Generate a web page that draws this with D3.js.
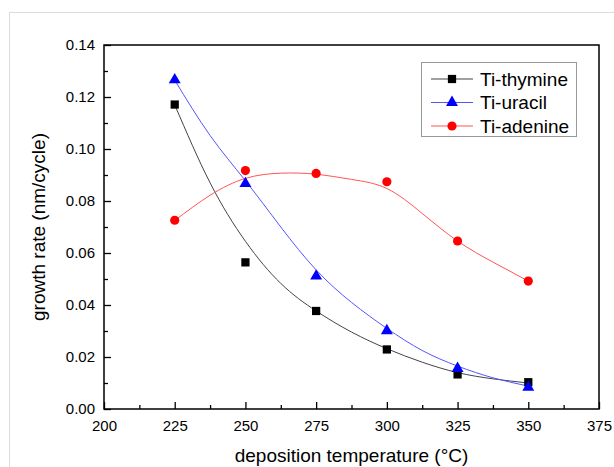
<!DOCTYPE html>
<html>
<head>
<meta charset="utf-8">
<script src="https://cdn.jsdelivr.net/npm/d3@7"></script>
<style>
  body { margin: 0; background: #fff; }
  svg text { font-family: Arial, "Liberation Sans", sans-serif; fill: #000; }
</style>
</head>
<body>
<svg id="chart" width="614" height="467"></svg>
<script>
// data
const temps   = [225, 250, 275, 300, 325, 350];
const thymine = [0.1171, 0.0564, 0.0377, 0.0229, 0.0133, 0.0103];
const uracil  = [0.1266, 0.0867, 0.0511, 0.0301, 0.0156, 0.0083];
const adenine = [0.0726, 0.0917, 0.0906, 0.0874, 0.0646, 0.0492];

// fitted curves
const fitTemps    = [225, 237.5, 250, 262.5, 275, 287.5, 300, 312.5, 325, 337.5, 350];
const thymineFit  = [0.117, 0.0870, 0.0645, 0.0483, 0.0377, 0.0296, 0.0232, 0.0180, 0.0140, 0.0116, 0.0100];
const uracilFit   = [0.1265, 0.1052, 0.0878, 0.0700, 0.0535, 0.041, 0.031, 0.0225, 0.0165, 0.0120, 0.0088];
const adenineFit  = [0.0725, 0.0822, 0.0887, 0.0907, 0.0903, 0.0883, 0.0848, 0.0752, 0.0646, 0.0565, 0.0492];

const xMajor = [200, 225, 250, 275, 300, 325, 350, 375];
const xMinor = [212.5, 237.5, 262.5, 287.5, 312.5, 337.5, 362.5];
const yMajor = [0, 0.02, 0.04, 0.06, 0.08, 0.10, 0.12, 0.14];
const yMinor = [0.01, 0.03, 0.05, 0.07, 0.09, 0.11, 0.13];

const series = [
  { name: 'Ti-thymine', pts: thymine, fit: thymineFit, color: '#000000', line: '#444444', shape: 'square' },
  { name: 'Ti-uracil',  pts: uracil,  fit: uracilFit,  color: '#0000ff', line: '#5555ff', shape: 'triangle' },
  { name: 'Ti-adenine', pts: adenine, fit: adenineFit, color: '#ff0000', line: '#ff5555', shape: 'circle' }
];

const svg = d3.select('#chart');
const margin = { top: 45, right: 15, bottom: 58, left: 104 };
const width  = 614 - margin.left - margin.right,
      height = 467 - margin.top  - margin.bottom;

// light outer frame
svg.append('rect')
  .attr('x', 9.5).attr('y', 12.5)
  .attr('width', 620).attr('height', 470)
  .attr('fill', 'none').attr('stroke', '#dcdcdc');

const g = svg.append('g')
  .attr('transform', `translate(${margin.left},${margin.top})`);

const x = d3.scaleLinear().domain([200, 375]).range([0, width]);
const y = d3.scaleLinear().domain([0, 0.14]).range([height, 0]);

// axes
g.append('g')
  .attr('transform', `translate(0,${height})`)
  .call(d3.axisBottom(x).tickValues(xMajor).tickFormat(d3.format('d'))
    .tickSizeInner(-7).tickSizeOuter(0).tickPadding(11))
  .call(a => a.select('.domain').remove())
  .call(a => a.selectAll('text').style('font-size', '15px'));
g.append('g')
  .attr('transform', `translate(0,${height})`)
  .call(d3.axisBottom(x).tickValues(xMinor).tickFormat('').tickSizeInner(-4).tickSizeOuter(0))
  .call(a => a.select('.domain').remove());

g.append('g')
  .call(d3.axisLeft(y).tickValues(yMajor).tickFormat(d3.format('.2f'))
    .tickSizeInner(-7).tickSizeOuter(0).tickPadding(9))
  .call(a => a.select('.domain').remove())
  .call(a => a.selectAll('text').style('font-size', '15px'));
g.append('g')
  .call(d3.axisLeft(y).tickValues(yMinor).tickFormat('').tickSizeInner(-4).tickSizeOuter(0))
  .call(a => a.select('.domain').remove());

g.selectAll('.tick line').attr('stroke', '#000').attr('stroke-width', 1.3);

g.append('rect')
  .attr('width', width).attr('height', height)
  .attr('fill', 'none').attr('stroke', '#000').attr('stroke-width', 1.5);

// fit curves
const line = d3.line()
  .x((d, i) => x(fitTemps[i]))
  .y(d => y(d))
  .curve(d3.curveNatural);

series.forEach(s => {
  g.append('path')
    .datum(s.fit)
    .attr('d', line)
    .attr('fill', 'none')
    .attr('stroke', s.line)
    .attr('stroke-width', 1);
});

const symbols = {
  square: d3.symbol().type(d3.symbolSquare).size(68),
  triangle: d3.symbol().type(d3.symbolTriangle).size(62),
  circle: d3.symbol().type(d3.symbolCircle).size(66)
};

series.forEach(s => {
  g.selectAll(null)
    .data(s.pts)
    .join('path')
      .attr('transform', (d, i) => `translate(${x(temps[i])},${y(d)})`)
      .attr('d', symbols[s.shape]())
      .attr('fill', s.color);
});

// legend
const lg = svg.append('g').attr('transform', 'translate(421,62)');
lg.append('rect')
  .attr('x', 0.5).attr('y', 0.5)
  .attr('width', 155).attr('height', 74)
  .attr('fill', '#fff').attr('stroke', '#999').attr('stroke-width', 1);
series.forEach((s, i) => {
  const yy = 17 + i * 23.5;
  lg.append('line')
    .attr('x1', 10).attr('x2', 52)
    .attr('y1', yy).attr('y2', yy)
    .attr('stroke', s.line).attr('stroke-width', 1);
  lg.append('path')
    .attr('transform', `translate(31,${yy})`)
    .attr('d', symbols[s.shape]())
    .attr('fill', s.color);
  lg.append('text')
    .attr('x', 59).attr('y', yy)
    .attr('dy', '0.35em')
    .style('font-size', '19px')
    .text(s.name);
});

// axis titles
svg.append('text')
  .attr('x', margin.left + width / 2)
  .attr('y', 462)
  .attr('text-anchor', 'middle')
  .style('font-size', '19px')
  .text('deposition temperature (°C)');

svg.append('text')
  .attr('transform', `translate(45,${margin.top + height / 2}) rotate(-90)`)
  .attr('text-anchor', 'middle')
  .style('font-size', '19px')
  .text('growth rate (nm/cycle)');
</script>
</body>
</html>
